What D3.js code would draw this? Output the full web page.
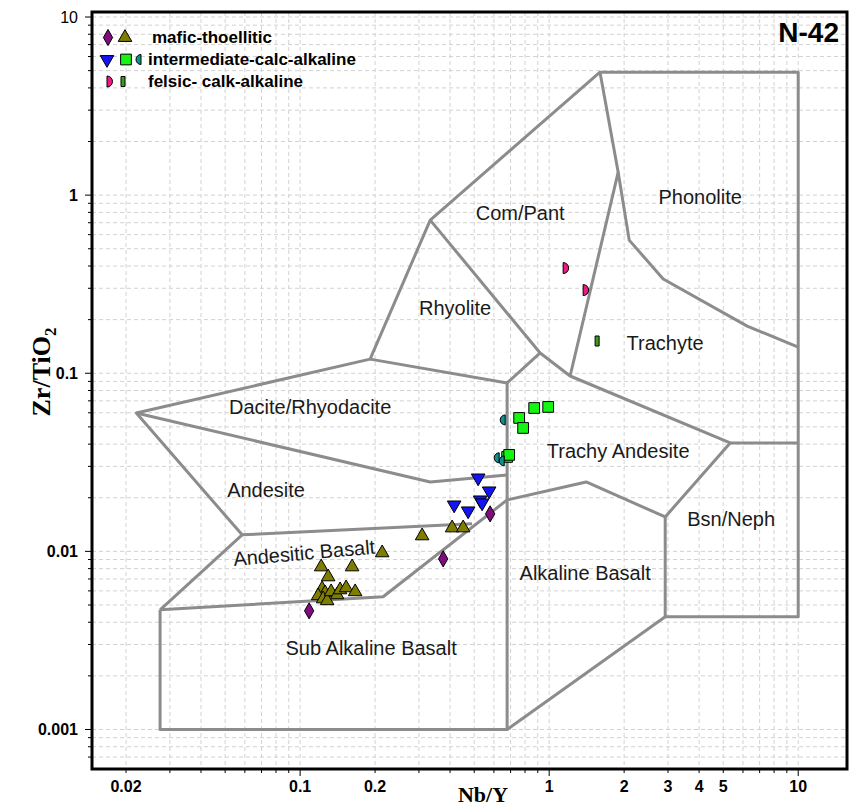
<!DOCTYPE html>
<html>
<head>
<meta charset="utf-8">
<script src="https://cdn.jsdelivr.net/npm/d3@7.9.0/dist/d3.min.js"></script>
<style>
  body { margin: 0; background: #fff; }
  svg { display: block; font-family: "Liberation Sans", Arial, sans-serif; }
</style>
</head>
<body>
<svg id="chart" width="852" height="808"></svg>
<script>
// field boundaries, Nb/Y vs Zr/TiO2 (Winchester & Floyd style)
const boundaries = [
  [[0.0274, 0.0047], [0.0274, 0.001], [0.678, 0.001], [0.678, 0.0882]],
  [[0.0274, 0.0047], [0.2154, 0.00556], [0.678, 0.01945], [1.408, 0.02454], [2.924, 0.01561], [5.33, 0.0406], [10, 0.0406]],
  [[0.0274, 0.0047], [0.0585, 0.01238], [0.022, 0.0598], [0.191, 0.120], [0.333, 0.724], [1.60, 4.9], [10, 4.9], [10, 0.00429], [2.924, 0.00429], [2.924, 0.01561]],
  [[0.0585, 0.01238], [0.49, 0.01427]],
  [[0.022, 0.0598], [0.333, 0.02454], [0.678, 0.02686]],
  [[0.191, 0.120], [0.678, 0.0882], [0.920, 0.130]],
  [[0.333, 0.724], [0.920, 0.130], [1.214, 0.0965], [5.33, 0.0406]],
  [[1.60, 4.9], [1.893, 1.346], [2.096, 0.559], [2.87, 0.338], [6.24, 0.184], [10, 0.140]],
  [[1.893, 1.346], [1.214, 0.0965]],
  [[2.924, 0.00429], [0.678, 0.001]]
];

const fieldNames = ['Com/Pant', 'Phonolite', 'Rhyolite', 'Trachyte', 'Dacite/Rhyodacite', 'Trachy Andesite',
  'Andesite', 'Andesitic Basalt', 'Bsn/Neph', 'Alkaline Basalt', 'Sub Alkaline Basalt'];
const fieldNbY = [0.765, 4.04, 0.419, 2.92, 0.1097, 1.893, 0.073, 0.1038, 5.38, 1.395, 0.1928];
const fieldZrTi = [0.79, 0.974, 0.232, 0.148, 0.0647, 0.0366, 0.0221, 0.00981, 0.0152, 0.00758, 0.00287];

// samples
const maficDiamond = [[0.1087, 0.004637], [0.3753, 0.009076], [0.5794, 0.01624]];
const maficTriangle = [[0.1215, 0.00818], [0.1617, 0.00818], [0.1296, 0.00719], [0.2135, 0.00981],
  [0.309, 0.01222], [0.4077, 0.01354], [0.4515, 0.01354], [0.1226, 0.00616], [0.126, 0.00585],
  [0.1181, 0.00563], [0.1237, 0.00541], [0.1284, 0.00528], [0.1332, 0.00593], [0.1408, 0.0057],
  [0.1447, 0.00608], [0.153, 0.00624], [0.1663, 0.00593]];
const interTriangle = [[0.5187, 0.02584], [0.5741, 0.02185], [0.5283, 0.01945], [0.538, 0.01871],
  [0.4154, 0.01823], [0.4728, 0.01688]];
const interSquare = [[0.8706, 0.0638], [0.991, 0.0647], [0.7577, 0.0561], [0.786, 0.0493],
  [0.678, 0.0339], [0.691, 0.0348]];
const interHalf = [[0.666, 0.0547], [0.63, 0.0335], [0.66, 0.0322]];
const felsicHalf = [[1.138, 0.3895], [1.369, 0.2931]];
const felsicBar = [[1.558, 0.1517]];

const xTickValues = [0.02, 0.1, 0.2, 1, 2, 3, 4, 5, 10];
const yTickValues = [0.001, 0.01, 0.1, 1, 10];

const svg = d3.select('#chart');
const mLeft = 92, mTop = 12, mRight = 847, mBottom = 769;

const x = d3.scaleLog().domain([0.0146, 15.7]).range([mLeft, mRight]);
const y = d3.scaleLog().domain([0.0006, 10.67]).range([mBottom, mTop]);

// grid values: every 1..9 of each decade inside the domain
function gridVals(scale) {
  const [a, b] = scale.domain();
  const out = [];
  for (let e = -4; e <= 2; e++) {
    for (let m = 1; m <= 9; m++) {
      const v = m * Math.pow(10, e);
      if (v > a * 1.001 && v < b * 0.999) out.push(v);
    }
  }
  return out;
}
const xGrid = gridVals(x);
const yGrid = gridVals(y);

const grid = svg.append('g').attr('stroke', '#d2d2d2').attr('stroke-dasharray', '4,3').attr('stroke-width', 1);
grid.selectAll('.gx').data(xGrid).join('line')
  .attr('x1', d => x(d)).attr('x2', d => x(d)).attr('y1', mTop).attr('y2', mBottom);
grid.selectAll('.gy').data(yGrid).join('line')
  .attr('y1', d => y(d)).attr('y2', d => y(d)).attr('x1', mLeft).attr('x2', mRight);

// ticks
const isMajor = v => Math.abs(Math.log10(v) - Math.round(Math.log10(v))) < 1e-6;
const ticks = svg.append('g').attr('stroke', '#000').attr('stroke-width', 1);
ticks.selectAll('.ty').data(yGrid).join('line')
  .attr('x1', mLeft).attr('x2', d => mLeft - (isMajor(d) ? 7 : 4))
  .attr('y1', d => y(d)).attr('y2', d => y(d));
ticks.selectAll('.tx').data(xGrid).join('line')
  .attr('y1', mBottom).attr('y2', d => mBottom + (isMajor(d) ? 7 : 4))
  .attr('x1', d => x(d)).attr('x2', d => x(d));

svg.append('g').selectAll('text').data(yTickValues).join('text')
  .attr('x', 78).attr('y', d => y(d)).attr('dy', '0.35em')
  .attr('text-anchor', 'end').attr('font-size', 16)
  .attr('font-weight', d => d === 10 ? 'normal' : 'bold')
  .text(d => d3.format('~g')(d));

svg.append('g').selectAll('text').data(xTickValues).join('text')
  .attr('x', d => x(d)).attr('y', 792)
  .attr('text-anchor', 'middle').attr('font-size', 16).attr('font-weight', 'bold')
  .text(d => d3.format('~g')(d));

// field boundaries
const line = d3.line().x(d => x(d[0])).y(d => y(d[1]));
svg.append('g').selectAll('path').data(boundaries).join('path')
  .attr('d', line).attr('fill', 'none').attr('stroke', '#8c8c8c')
  .attr('stroke-width', 3).attr('stroke-linejoin', 'round');

// field names
svg.append('g').selectAll('text').data(fieldNames).join('text')
  .attr('x', (d, i) => x(fieldNbY[i])).attr('y', (d, i) => y(fieldZrTi[i]))
  .attr('dy', '0.35em').attr('text-anchor', 'middle')
  .attr('font-size', 20).attr('fill', '#1a1a1a')
  .attr('transform', (d, i) => d === 'Andesitic Basalt'
    ? `rotate(-5 ${x(fieldNbY[i])} ${y(fieldZrTi[i])})` : null)
  .text(d => d);

// frame
svg.append('rect').attr('x', mLeft).attr('y', mTop)
  .attr('width', mRight - mLeft).attr('height', mBottom - mTop)
  .attr('fill', 'none').attr('stroke', '#000').attr('stroke-width', 3);

// marker shapes
const halfLeft = r => `M0,${-r}A${r},${r} 0 0 0 0,${r}Z`;
const halfRight = r => `M0,${-r}A${r},${r} 0 0 1 0,${r}Z`;
const barShape = 'M-2,-5h4v10h-4Z';
const markerTypes = [
  { data: maficDiamond, path: d3.symbol(d3.symbolDiamond, 75)(), fill: '#800c80', rot: 0 },
  { data: maficTriangle, path: d3.symbol(d3.symbolTriangle, 80)(), fill: '#7f7d00', rot: 0 },
  { data: interTriangle, path: d3.symbol(d3.symbolTriangle, 80)(), fill: '#1414f5', rot: 180 },
  { data: interSquare, path: d3.symbol(d3.symbolSquare, 115)(), fill: '#14f514', rot: 0 },
  { data: interHalf, path: halfLeft(5), fill: '#0d9090', rot: 0 },
  { data: felsicHalf, path: halfRight(5.5), fill: '#ee1a80', rot: 0 },
  { data: felsicBar, path: barShape, fill: '#3e9a1c', rot: 0 }
];

const pts = svg.append('g');
markerTypes.forEach(m => {
  pts.selectAll(null).data(m.data).join('path')
    .attr('d', m.path)
    .attr('transform', d => `translate(${x(d[0])},${y(d[1])}) rotate(${m.rot})`)
    .attr('fill', m.fill).attr('stroke', '#000').attr('stroke-width', 1);
});

// legend
const legendRows = [
  { text: 'mafic-thoellitic', tx: 152, syms: [[0, 108], [1, 125]] },
  { text: 'intermediate-calc-alkaline', tx: 148, syms: [[2, 107], [3, 126], [4, 141]] },
  { text: 'felsic- calk-alkaline', tx: 148, syms: [[5, 107], [6, 123]] }
];
const legend = svg.append('g');
legendRows.forEach((row, i) => {
  const ly = 37.5 + i * 22;
  row.syms.forEach(([k, lx]) => {
    const m = markerTypes[k];
    legend.append('path').attr('d', m.path)
      .attr('transform', `translate(${lx},${ly}) rotate(${m.rot})`)
      .attr('fill', m.fill).attr('stroke', '#000').attr('stroke-width', 1);
  });
  legend.append('text').attr('x', row.tx).attr('y', ly).attr('dy', '0.35em')
    .attr('font-size', 17).attr('font-weight', 'bold').text(row.text);
});

// title
svg.append('text').attr('x', 839).attr('y', 42).attr('text-anchor', 'end')
  .attr('font-size', 28).attr('font-weight', 'bold').text('N-42');

// axis titles
svg.append('text').attr('x', 483).attr('y', 802).attr('text-anchor', 'middle')
  .attr('font-family', '"Liberation Serif", "Times New Roman", serif')
  .attr('font-size', 22).attr('font-weight', 'bold').text('Nb/Y');

const yTitle = svg.append('text')
  .attr('transform', 'translate(50,372) rotate(-90)').attr('text-anchor', 'middle')
  .attr('font-family', '"Liberation Serif", "Times New Roman", serif')
  .attr('font-size', 26).attr('font-weight', 'bold');
yTitle.append('tspan').text('Zr/TiO');
yTitle.append('tspan').attr('dy', 6).attr('font-size', 17).text('2');
</script>
</body>
</html>
